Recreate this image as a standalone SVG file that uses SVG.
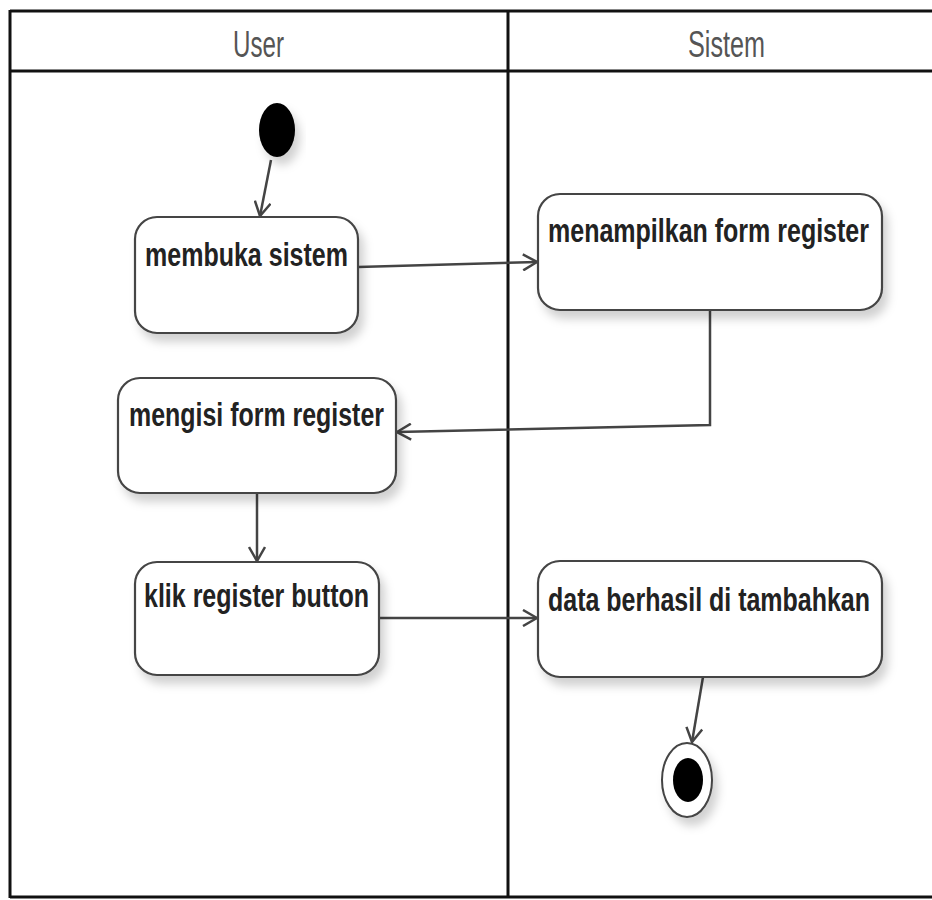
<svg xmlns="http://www.w3.org/2000/svg" width="932" height="900" viewBox="0 0 932 900">
<style>
.lane{stroke:#111;stroke-width:3;fill:none}
.hdr{font-family:"Liberation Sans",Arial,sans-serif;font-size:37px;fill:#555;text-anchor:start}
.box{fill:#fff;stroke:#444;stroke-width:2.2}
.lbl{font-family:"Liberation Sans",Arial,sans-serif;font-weight:bold;font-size:34px;fill:#222}
.edge{stroke:#444;stroke-width:2.5;fill:none}
</style>
<defs>
<filter id="sh" x="-20%" y="-20%" width="150%" height="160%">
<feDropShadow dx="5" dy="8" stdDeviation="5" flood-color="#000" flood-opacity="0.18"/>
</filter>
<marker id="arr" viewBox="0 0 16 18" refX="15" refY="9" markerWidth="16" markerHeight="18" markerUnits="userSpaceOnUse" orient="auto">
<path d="M1,1 L15,9 L1,17" fill="none" stroke="#444" stroke-width="2.5"/>
</marker>
</defs>
<rect width="932" height="900" fill="#fff"/>
<g id="lanes">
<line class="lane" x1="10" y1="11" x2="932" y2="11"/>
<line class="lane" x1="10" y1="71" x2="932" y2="71"/>
<line class="lane" x1="10" y1="897" x2="932" y2="897"/>
<line class="lane" x1="10" y1="10" x2="10" y2="898"/>
<line class="lane" x1="508" y1="10" x2="508" y2="898"/>
<text class="hdr" x="233" y="57" textLength="51" lengthAdjust="spacingAndGlyphs">User</text>
<text class="hdr" x="688" y="57" textLength="77" lengthAdjust="spacingAndGlyphs">Sistem</text>
</g>
<g id="connectors">
<line class="edge" x1="271" y1="160" x2="260" y2="216" marker-end="url(#arr)"/>
<line class="edge" x1="358" y1="267" x2="537" y2="262" marker-end="url(#arr)"/>
<polyline class="edge" points="710,310 710,425 397,432" marker-end="url(#arr)"/>
<line class="edge" x1="257" y1="493" x2="257" y2="561" marker-end="url(#arr)"/>
<line class="edge" x1="379" y1="618" x2="537" y2="618" marker-end="url(#arr)"/>
<line class="edge" x1="703" y1="677" x2="692" y2="742" marker-end="url(#arr)"/>
</g>
<g id="start">
<ellipse cx="277" cy="130" rx="18" ry="27" fill="#000" filter="url(#sh)"/>
</g>
<g id="membuka">
<rect class="box" x="135" y="217" width="223" height="116" rx="22" filter="url(#sh)"/>
<text class="lbl" x="145" y="266" textLength="203" lengthAdjust="spacingAndGlyphs">membuka sistem</text>
</g>
<g id="menampilkan">
<rect class="box" x="538" y="194" width="344" height="116" rx="22" filter="url(#sh)"/>
<text class="lbl" x="548" y="242" textLength="321" lengthAdjust="spacingAndGlyphs">menampilkan form register</text>
</g>
<g id="mengisi">
<rect class="box" x="118" y="378" width="278" height="115" rx="22" filter="url(#sh)"/>
<text class="lbl" x="129" y="426" textLength="255" lengthAdjust="spacingAndGlyphs">mengisi form register</text>
</g>
<g id="klik">
<rect class="box" x="135" y="562" width="244" height="113" rx="22" filter="url(#sh)"/>
<text class="lbl" x="144" y="607" textLength="225" lengthAdjust="spacingAndGlyphs">klik register button</text>
</g>
<g id="data">
<rect class="box" x="538" y="561" width="344" height="116" rx="22" filter="url(#sh)"/>
<text class="lbl" x="548" y="611" textLength="322" lengthAdjust="spacingAndGlyphs">data berhasil di tambahkan</text>
</g>
<g id="end">
<ellipse cx="687" cy="780" rx="25" ry="37" fill="#fff" stroke="#444" stroke-width="2" filter="url(#sh)"/>
<ellipse cx="688" cy="780" rx="15" ry="22" fill="#000"/>
</g>
</svg>
